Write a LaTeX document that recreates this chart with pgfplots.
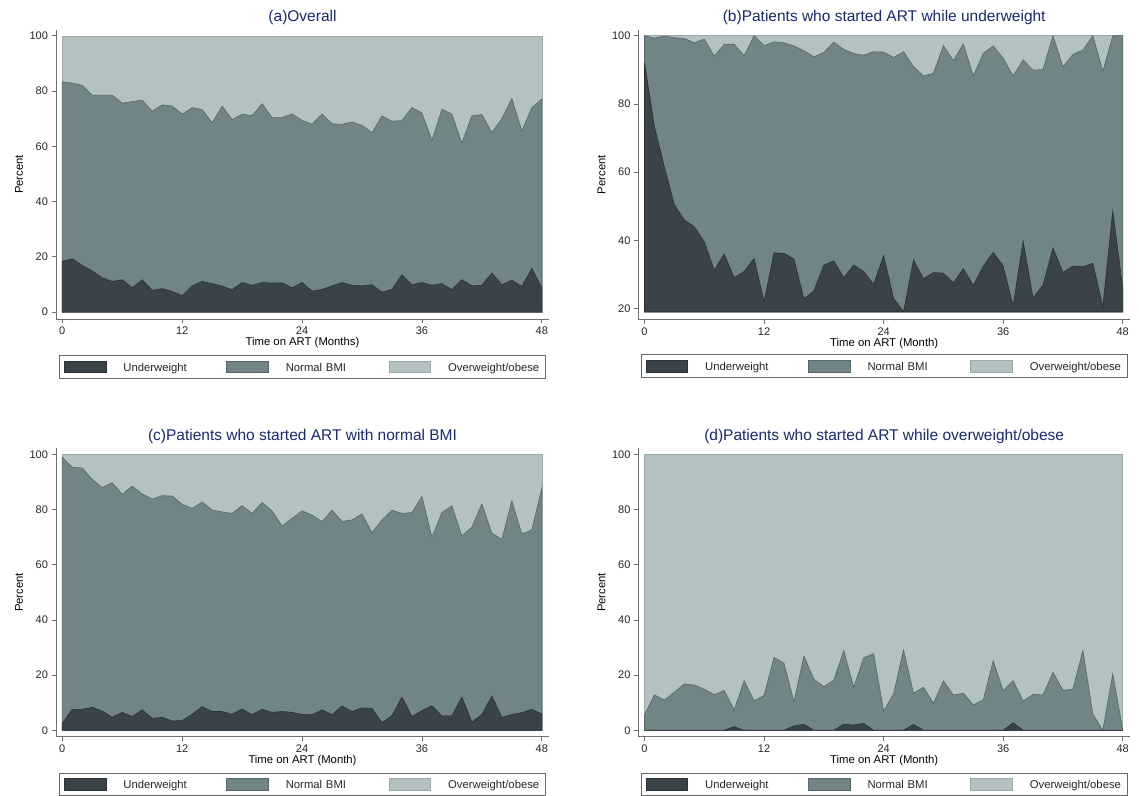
\documentclass[border=0pt]{standalone}
\usepackage{pgfplots}
\pgfplotsset{compat=1.18}
\usepackage{pgfplotstable}
\usepackage{fontspec}
\setmainfont{Liberation Sans}
\definecolor{uwc}{HTML}{3A4347}
\definecolor{uwe}{HTML}{2A3134}
\definecolor{nbc}{HTML}{718486}
\definecolor{nbe}{HTML}{55666A}
\definecolor{owc}{HTML}{B3C1C0}
\definecolor{owe}{HTML}{9AA9A8}
\definecolor{titlec}{HTML}{1A2A6C}
\definecolor{axc}{HTML}{6E6E6E}

\pgfplotstableread{
m u n
0 18.4 83.3
1 19.3 82.9
2 16.9 82.1
3 14.9 78.5
4 12.4 78.5
5 11.1 78.5
6 11.7 75.6
7 8.8 76.2
8 11.7 76.7
9 7.9 72.7
10 8.5 75.0
11 7.5 74.6
12 5.9 71.6
13 9.5 74.0
14 11.1 73.3
15 10.3 68.5
16 9.4 74.5
17 8.1 69.7
18 10.7 71.6
19 9.7 71.1
20 10.7 75.4
21 10.5 70.4
22 10.6 70.4
23 8.8 71.7
24 10.7 69.4
25 7.6 68.0
26 8.2 71.7
27 9.5 68.1
28 10.7 68.0
29 9.7 68.8
30 9.5 67.6
31 9.9 64.9
32 7.2 71.0
33 8.2 69.1
34 13.5 69.3
35 9.9 74.0
36 10.7 72.1
37 9.7 62.1
38 10.3 73.4
39 8.1 71.6
40 11.7 61.2
41 9.5 71.0
42 9.7 71.5
43 14.1 65.0
44 9.9 70.0
45 11.5 77.3
46 9.3 65.5
47 15.8 74.0
48 8.8 77.1
}\dataA

\pgfplotstableread{
m u n
0 92.1 100
1 73.3 99.3
2 61.5 99.9
3 50.4 99.4
4 46.0 99.2
5 44.0 97.9
6 39.6 99.0
7 31.3 94.0
8 36.0 97.5
9 29.1 97.5
10 30.9 94.1
11 34.7 100
12 22.1 97.1
13 36.4 98.2
14 36.2 97.9
15 34.6 97.0
16 22.9 95.6
17 25.2 93.8
18 32.8 95.1
19 34.0 98.1
20 29.1 96.0
21 32.8 94.8
22 30.9 94.3
23 27.1 95.3
24 35.6 95.2
25 23.0 93.6
26 19.1 95.3
27 34.3 90.9
28 28.8 88.2
29 30.6 89.0
30 30.4 97.1
31 27.6 92.7
32 31.7 97.6
33 26.8 88.2
34 32.5 94.8
35 36.5 97.0
36 32.5 93.4
37 20.8 88.2
38 39.8 92.9
39 23.2 89.9
40 26.9 90.1
41 37.8 100
42 30.6 90.9
43 32.5 94.5
44 32.3 95.8
45 33.3 100
46 20.6 89.6
47 48.6 100
48 26.0 100
}\dataB

\pgfplotstableread{
m u n
0 2.5 98.9
1 7.6 95.3
2 7.6 95.0
3 8.3 90.9
4 7.0 87.9
5 4.7 89.7
6 6.5 85.5
7 5.0 88.5
8 7.4 85.6
9 4.3 83.8
10 4.7 85.0
11 3.4 84.9
12 3.5 81.9
13 5.8 80.4
14 8.6 82.7
15 6.8 79.8
16 6.8 79.1
17 5.8 78.6
18 7.7 81.4
19 5.7 78.6
20 7.6 82.5
21 6.5 79.5
22 6.8 74.0
23 6.5 76.8
24 5.7 79.5
25 5.6 78.0
26 7.4 75.6
27 5.7 79.7
28 8.8 75.7
29 6.8 76.2
30 8.1 78.4
31 7.9 71.6
32 2.8 76.2
33 5.3 79.7
34 12.0 78.6
35 5.0 78.9
36 7.1 84.7
37 8.9 69.9
38 5.2 78.9
39 5.2 81.3
40 12.0 70.4
41 3.0 73.6
42 5.7 82.0
43 12.4 71.4
44 4.7 69.2
45 5.7 83.1
46 6.4 71.1
47 7.6 72.6
48 5.9 87.7
}\dataC

\pgfplotstableread{
m u n
0 0 5.6
1 0 12.8
2 0 11.0
3 0 13.8
4 0 16.8
5 0 16.4
6 0 14.9
7 0 12.9
8 0 14.4
9 1.3 7.4
10 0 17.9
11 0 10.7
12 0 12.6
13 0 26.4
14 0 24.3
15 1.6 10.3
16 2.2 26.9
17 0 18.5
18 0 15.8
19 0 18.2
20 2.2 28.9
21 1.9 15.6
22 2.5 26.3
23 0 27.7
24 0 7.0
25 0 13.2
26 0 29.1
27 2.1 13.4
28 0 15.6
29 0 9.8
30 0 17.9
31 0 12.8
32 0 13.4
33 0 9.2
34 0 11.0
35 0 25.2
36 0 14.4
37 2.7 18.0
38 0 10.6
39 0 13.0
40 0 12.8
41 0 21.0
42 0 14.5
43 0 14.9
44 0 28.9
45 0 5.8
46 0 0
47 0 20.5
48 0 0
}\dataD

\pgfplotsset{
  panel/.style={
    scale only axis, anchor=south west,
    axis x line=bottom, axis y line=left,
    axis line style={-, draw=axc, line width=0.7pt},
    tick style={draw=axc, line width=0.7pt},
    tick align=outside, major tick length=4.5pt,
    xtick={0,12,24,36,48},
    tick label style={font=\fontsize{11}{12}\selectfont, text=black!85},
    /pgf/number format/assume math mode=true,
    title style={font=\fontsize{15.5}{17}\selectfont, text=titlec,
      at={(axis description cs:0.5,1)}, anchor=south, yshift=-4.5pt},
    xlabel style={font=\fontsize{11.3}{13}\selectfont,
      at={(axis description cs:0.5,-0.0824)}, anchor=center},
    ylabel style={font=\fontsize{11.3}{13}\selectfont,
      at={(axis description cs:-0.075,0.5)}, anchor=center},
    ylabel={Percent},
    legend style={at={(axis description cs:0.5,-0.1246)}, anchor=north,
      draw=black!60, line width=0.8pt, fill=white,
      inner xsep=4pt, inner ysep=5.3pt,
      font=\fontsize{11.3}{13}\selectfont, text=black!85,
      nodes={inner sep=0pt, text width=93pt, align=left},
      /tikz/every odd column/.append style={column sep=17.4pt},
      /tikz/every even column/.append style={column sep=9.8pt}},
    legend columns=3,
    legend cell align=left,
    legend image code/.code={\fill[##1, line width=0.4pt] (0pt,-4.95pt) rectangle (41.8pt,6.75pt);},
  },
  ow/.style={fill=owc, draw=owe, line width=0.5pt, forget plot},
  nb/.style={fill=nbc, draw=nbe, line width=0.6pt, forget plot},
  uw/.style={fill=uwc, draw=uwe, line width=0.6pt, forget plot},
}

\newcommand{\legendentries}{%
  \addlegendimage{fill=uwc, draw=uwe}
  \addlegendentry{Underweight}
  \addlegendimage{fill=nbc, draw=nbe}
  \addlegendentry{Normal BMI}
  \addlegendimage{fill=owc, draw=owe}
  \addlegendentry{Overweight/obese}
}

\begin{document}
\begin{tikzpicture}
\useasboundingbox (0pt,0pt) rectangle (1139pt,795pt);
\fill[white] (0pt,0pt) rectangle (1139pt,795pt);

% (a)
\begin{axis}[panel, at={(56pt,476pt)}, width=493pt, height=289pt,
  xmin=-0.63, xmax=48.72, ymin=-2.5, ymax=102.1,
  ytick={0,20,40,60,80,100},
  title={(a)Overall}, xlabel={Time on ART (Months)}]
\legendentries
\addplot[ow] coordinates {(0,100) (48,100)} |- (axis cs:0,0) -- cycle;
\addplot[nb] table[x=m,y=n] {\dataA} |- (axis cs:0,0) -- cycle;
\addplot[uw] table[x=m,y=u] {\dataA} |- (axis cs:0,0) -- cycle;
\end{axis}

% (b)
\begin{axis}[panel, at={(638.4pt,475.7pt)}, width=491.6pt, height=289.3pt,
  xmin=-0.612, xmax=48.73, ymin=16.9, ymax=101.67,
  ytick={20,40,60,80,100},
  legend style={at={(axis description cs:0.5,-0.1208)}},
  title={(b)Patients who started ART while underweight}, xlabel={Time on ART (Month)}]
\legendentries
\addplot[ow] coordinates {(0,100) (48,100)} |- (axis cs:0,19.1) -- cycle;
\addplot[nb] table[x=m,y=n] {\dataB} |- (axis cs:0,19.1) -- cycle;
\addplot[uw] table[x=m,y=u] {\dataB} |- (axis cs:0,19.1) -- cycle;
\end{axis}

% (c)
\begin{axis}[panel, at={(56pt,58.3pt)}, width=493pt, height=288.4pt,
  xmin=-0.63, xmax=48.72, ymin=-2.32, ymax=102.17,
  ytick={0,20,40,60,80,100},
  title={(c)Patients who started ART with normal BMI}, xlabel={Time on ART (Month)}]
\legendentries
\addplot[ow] coordinates {(0,100) (48,100)} |- (axis cs:0,0) -- cycle;
\addplot[nb] table[x=m,y=n] {\dataC} |- (axis cs:0,0) -- cycle;
\addplot[uw] table[x=m,y=u] {\dataC} |- (axis cs:0,0) -- cycle;
\end{axis}

% (d)
\begin{axis}[panel, at={(638.4pt,58.3pt)}, width=491.6pt, height=288.4pt,
  xmin=-0.612, xmax=48.73, ymin=-2.32, ymax=102.17,
  ytick={0,20,40,60,80,100},
  title={(d)Patients who started ART while overweight/obese}, xlabel={Time on ART (Month)}]
\legendentries
\addplot[ow] coordinates {(0,100) (48,100)} |- (axis cs:0,0) -- cycle;
\addplot[nb] table[x=m,y=n] {\dataD} |- (axis cs:0,0) -- cycle;
\addplot[uw] table[x=m,y=u] {\dataD} |- (axis cs:0,0) -- cycle;
\end{axis}
\end{tikzpicture}
\end{document}
